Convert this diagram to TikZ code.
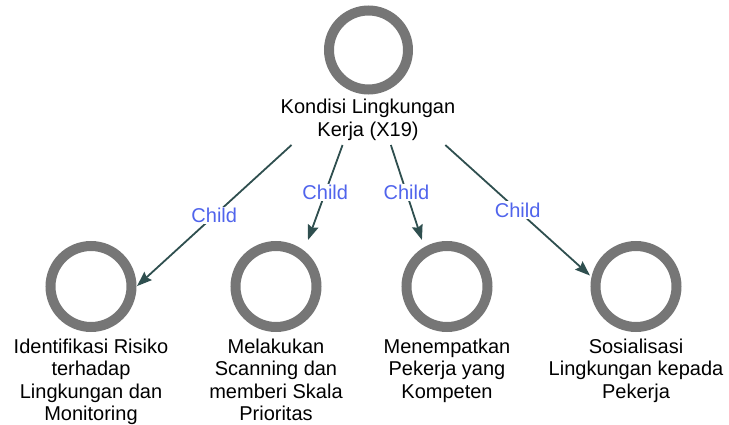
\documentclass[tikz,border=0pt]{standalone}
\usepackage{fontspec}
\setmainfont{Liberation Sans}
\usetikzlibrary{arrows.meta}
\definecolor{ringgray}{RGB}{118,118,118}
\definecolor{edgeteal}{RGB}{47,79,79}
\definecolor{childblue}{RGB}{80,100,236}
\tikzset{
  ring/.style={circle, draw=ringgray, line width=10pt, minimum size=81pt, inner sep=0pt},
  hitbox/.style={rectangle, inner sep=0pt, outer sep=0pt, minimum width=92pt},
  % multi-line captions: the base anchor sits on the last line
  lbl/.style={align=center, anchor=base, inner sep=0pt, font=\fontsize{20}{22.5}\selectfont},
  edge/.style={draw=edgeteal, line width=1.8pt, -{Stealth[length=15pt, width=11pt, inset=2pt]}},
  elabel/.style={fill=white, text=childblue, inner sep=1.5pt, font=\fontsize{20}{22}\selectfont}
}
\begin{document}
\begin{tikzpicture}[x=1pt, y=-1pt]
\useasboundingbox (0,0) rectangle (729,425);

% parent: ring, caption and its outline box used by the connectors
\node[hitbox, minimum width=200pt, minimum height=140pt] (top) at (368,75) {};
\node[ring, minimum size=79pt] (topring) at (368.5,50) {};
\node[lbl] (toptext) at (368,136.5) {Kondisi Lingkungan\\Kerja (X19)};

% children: outline boxes, rings and captions
\node[hitbox, minimum height=176pt] (b1) at (91,328) {};
\node[hitbox, minimum height=176pt] (b2) at (276,328) {};
\node[hitbox, minimum height=154pt] (b3) at (447,317) {};
\node[hitbox, minimum height=154pt] (b4) at (636,317) {};

\node[ring] (r1) at (91,286.5) {};
\node[ring] (r2) at (276,286.5) {};
\node[ring] (r3) at (447,286.5) {};
\node[ring] (r4) at (636,286.5) {};

\node[lbl] (t1) at (91,420.5) {Identifikasi Risiko\\terhadap\\Lingkungan dan\\Monitoring};
\node[lbl] (t2) at (276,420.5) {Melakukan\\Scanning dan\\memberi Skala\\Prioritas};
\node[lbl] (t3) at (447,398) {Menempatkan\\Pekerja yang\\Kompeten};
\node[lbl] (t4) at (636,398) {Sosialisasi\\Lingkungan kepada\\Pekerja};

% connectors
\draw[edge] (top) -- node[elabel] (c1) {Child} (b1);
\draw[edge] (top) -- node[elabel] (c2) {Child} (b2);
\draw[edge] (top) -- node[elabel] (c3) {Child} (b3);
\draw[edge] (top) -- node[elabel] (c4) {Child} (b4);
\end{tikzpicture}
\end{document}
